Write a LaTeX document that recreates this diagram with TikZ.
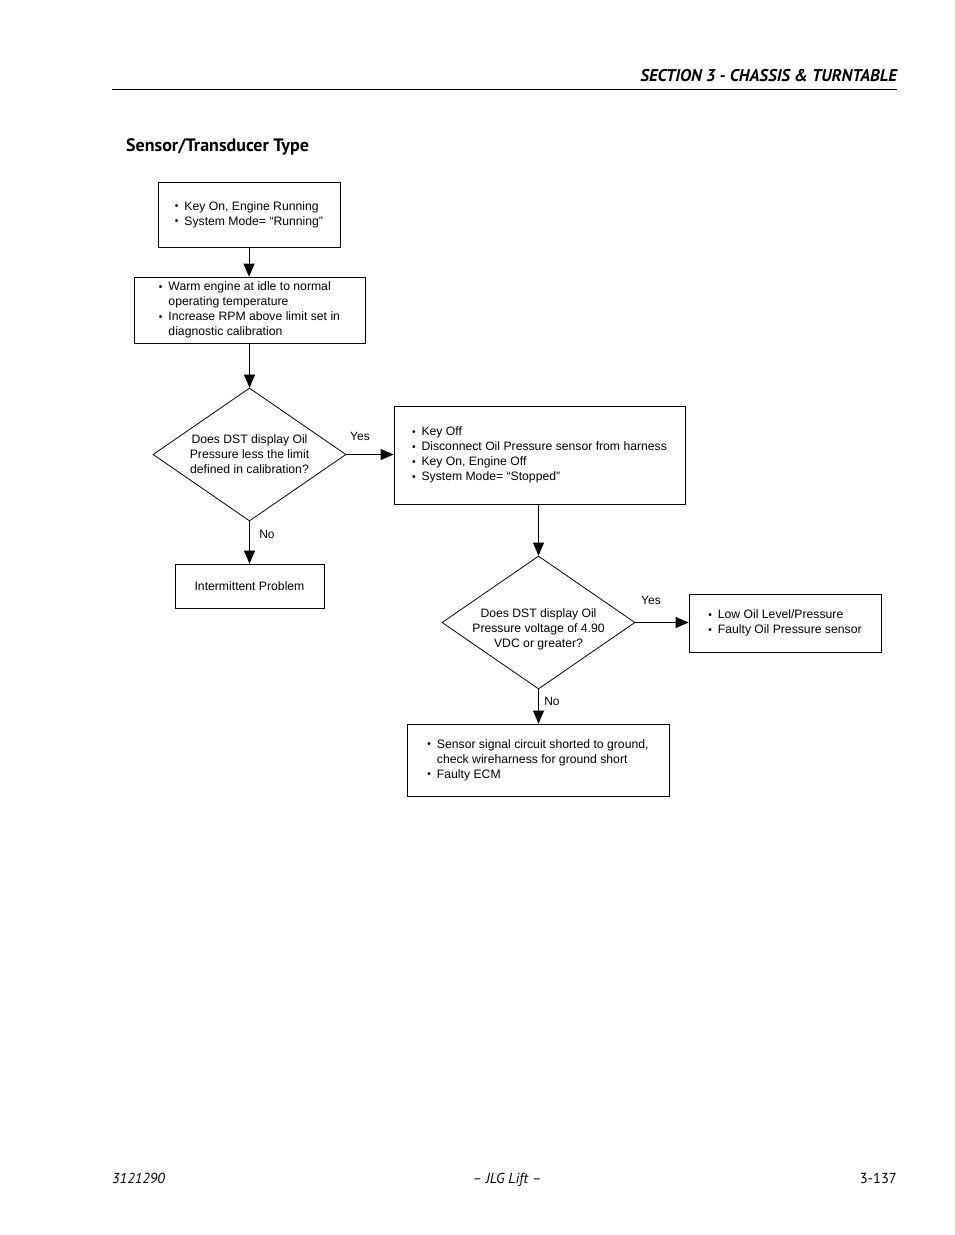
\documentclass[tikz,border=0pt]{standalone}
\usepackage{fontspec}
\setmainfont{Liberation Sans}
\newfontfamily\hdr{PT Sans}
\usetikzlibrary{shapes.geometric,arrows.meta}
\tikzset{
  box/.style={draw=black,line width=0.8pt,rectangle,inner sep=0pt,align=left,font=\fontsize{12.2}{15}\selectfont},
  dia/.style={draw=black,line width=0.8pt,diamond,inner sep=0pt},
  diatext/.style={align=center,inner sep=0pt,font=\fontsize{12.2}{15}\selectfont},
  conn/.style={line width=0.8pt,-{Triangle[length=13pt,width=11pt]}},
  lbl/.style={font=\fontsize{12}{13}\selectfont,inner sep=0pt}
}
\newcommand{\bul}{\makebox[9.5pt][l]{\raisebox{0.3pt}{\scalebox{0.85}{\textbullet}}}}
\newcommand{\ind}{\hspace*{9.5pt}}
\begin{document}
\begin{tikzpicture}[x=1pt,y=-1pt]
\useasboundingbox[fill=white] (0,0) rectangle (954,1235);
% header
\node[anchor=base east,inner sep=0pt,font=\hdr\bfseries\itshape\fontsize{17}{20}\selectfont] (hd) at (897,81) {SECTION 3 - CHASSIS \& TURNTABLE};
\draw[line width=1pt] (112,89) -- (897,89);
\node[anchor=base west,inner sep=0pt,font=\hdr\bfseries\fontsize{18}{20}\selectfont] (title) at (126,151) {Sensor/Transducer Type};
% boxes
\node[box,minimum width=182pt,minimum height=65pt] (b1) at (249,214.5)
 {\bul Key On, Engine Running\\ \bul System Mode= “Running”};
\node[box,minimum width=231pt,minimum height=66pt] (b2) at (249.5,310)
 {\bul Warm engine at idle to normal\\ \ind operating temperature\\ \bul Increase RPM above limit set in\\ \ind diagnostic calibration};
\node[dia,minimum width=193pt,minimum height=133pt] (d1) at (249.5,454.5) {};
\node[diatext] (d1t) at (d1.center) {Does DST display Oil\\ Pressure less the limit\\ defined in calibration?};
\node[box,minimum width=291pt,minimum height=98pt] (b3) at (539.5,455)
 {\bul Key Off\\ \bul Disconnect Oil Pressure sensor from harness\\ \bul Key On, Engine Off\\ \bul System Mode= “Stopped”};
\node[box,minimum width=149pt,minimum height=44pt,align=center] (b6) at (249.5,586)
 {Intermittent Problem};
\node[dia,minimum width=193pt,minimum height=133pt] (d2) at (538.5,622.5) {};
\node[diatext,yshift=-7pt] (d2t) at (d2.center) {Does DST display Oil\\ Pressure voltage of 4.90\\ VDC or greater?};
\node[box,minimum width=192pt,minimum height=58pt] (b4) at (785,623)
 {\bul Low Oil Level/Pressure\\ \bul Faulty Oil Pressure sensor};
\node[box,minimum width=262pt,minimum height=72pt] (b5) at (538,760)
 {\bul Sensor signal circuit shorted to ground,\\ \ind check wireharness for ground short\\ \bul Faulty ECM};
% connectors
\draw[conn] (b1.south -| 249,0) -- (b2.north -| 249,0);
\draw[conn] (b2.south -| 249.5,0) -- (d1.north);
\draw[conn] (d1.east) -- (b3.west |- d1.east);
\draw[conn] (d1.south) -- (b6.north);
\draw[conn] (b3.south -| d2.north) -- (d2.north);
\draw[conn] (d2.east) -- (b4.west |- d2.east);
\draw[conn] (d2.south) -- (b5.north -| d2.south);
% labels
\node[lbl] (y1) at (360,436) {Yes};
\node[lbl] (n1) at (267,534) {No};
\node[lbl] (y2) at (651,600) {Yes};
\node[lbl] (n2) at (552,701) {No};
% footer
\node[anchor=base west,inner sep=0pt,font=\hdr\itshape\fontsize{14.5}{16}\selectfont] (f1) at (112,1183) {3121290};
\node[anchor=base,inner sep=0pt,font=\hdr\itshape\fontsize{14.5}{16}\selectfont] (f2) at (507,1183) {– JLG Lift –};
\node[anchor=base east,inner sep=0pt,font=\hdr\fontsize{14.5}{16}\selectfont] (f3) at (897,1183) {3-137};
\end{tikzpicture}
\end{document}
